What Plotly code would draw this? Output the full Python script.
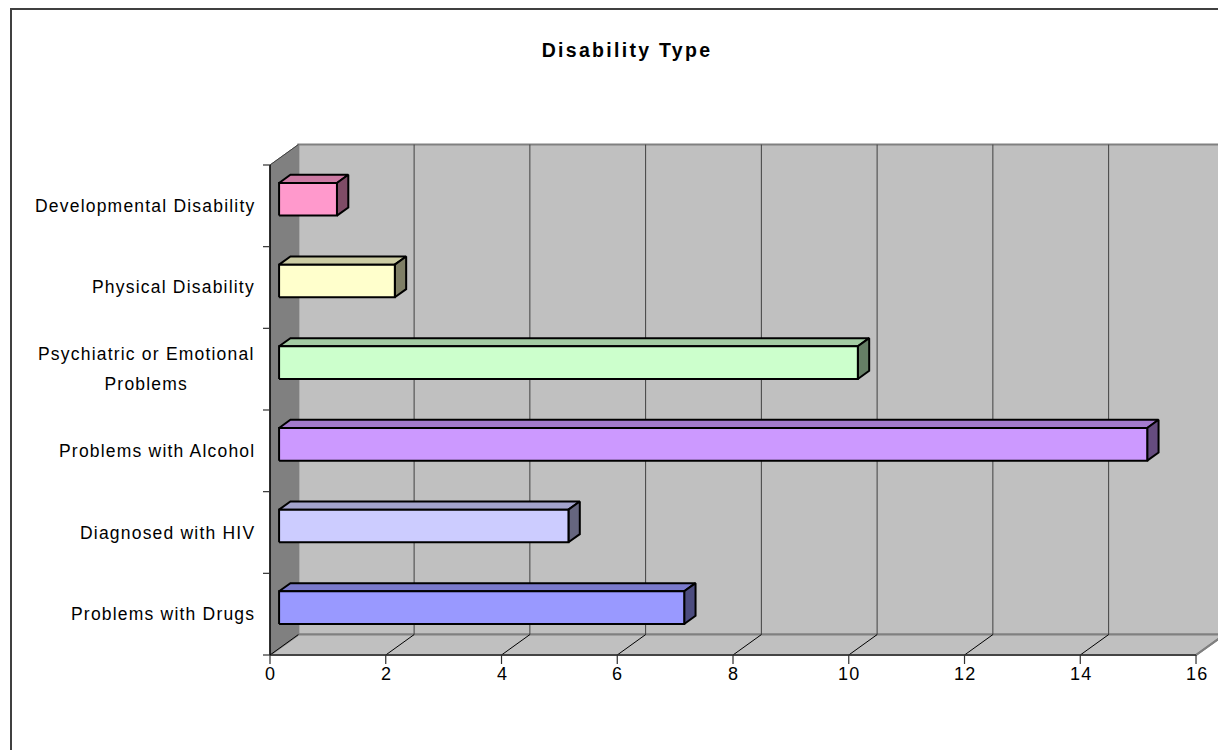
import plotly.graph_objects as go

# ---------------- data ----------------
categories = [
    "Problems with Drugs",
    "Diagnosed with HIV",
    "Problems with Alcohol",
    "Psychiatric or Emotional<br>Problems",
    "Physical Disability",
    "Developmental Disability",
]
values = [7, 5, 15, 10, 2, 1]
bar_colors = ["#9999FF", "#CCCCFF", "#CC99FF", "#CCFFCC", "#FFFFCC", "#FF99CC"]
x_tick_values = [0, 2, 4, 6, 8, 10, 12, 14, 16]
x_tick_labels = ["0", "2", "4", "6", "8", "10", "12", "14", "16"]
title_text = "Disability Type"

# ---------------- geometry / style ----------------
# the page body adds an 8px margin, so the figure is drawn 8px smaller/offset
OFF = 8
W, H = 1226 - OFF, 750 - OFF
M_L, M_R, M_T, M_B = 256 - OFF, 0, 140 - OFF, 80
X_RANGE = [-0.2419, 16.518]
Y_RANGE = [-0.1837, 6.306]
X_MAX = x_tick_values[-1]
N = len(categories)
DX, DY = 0.49, 0.25          # oblique depth offset (axis units)
F0, F1 = 0.32, 0.72          # bar depth span (fraction of depth)
HALF = 0.2                   # half bar thickness (category units)

plot_w = W - M_L - M_R
plot_h = H - M_T - M_B
px_x = plot_w / (X_RANGE[1] - X_RANGE[0])
px_y = plot_h / (Y_RANGE[1] - Y_RANGE[0])

FONT = "Liberation Sans, Arial, sans-serif"
LABEL_SIZE = 17.5
LABEL_SPACING = 1.2


def spaced(t, sp, size=None):
    fs = f";font-size:{size}px" if size else ""
    return "<br>".join(
        f'<span style="letter-spacing:{sp}px{fs}">{part}</span>' for part in t.split("<br>")
    )


def shade(hexc, k):
    hexc = hexc.lstrip("#")
    r, g, b = (int(hexc[i:i + 2], 16) for i in (0, 2, 4))
    return "#%02X%02X%02X" % (int(r * k), int(g * k), int(b * k))


def proj(x, y, f):
    return (x + f * DX, y + f * DY)


fig = go.Figure()


def poly(pts, fill, lc, lw):
    xs = [p[0] for p in pts] + [pts[0][0]]
    ys = [p[1] for p in pts] + [pts[0][1]]
    fig.add_trace(go.Scatter(
        x=xs, y=ys, mode="lines", fill="toself", fillcolor=fill,
        line=dict(color=lc, width=lw), hoverinfo="skip", showlegend=False))


def seg(pts, lc, lw):
    fig.add_trace(go.Scatter(
        x=[p[0] for p in pts], y=[p[1] for p in pts], mode="lines",
        line=dict(color=lc, width=lw), hoverinfo="skip", showlegend=False))


# walls and floor
poly([(DX, DY), (X_MAX + DX, DY), (X_MAX + DX, N + DY), (DX, N + DY)], "#C0C0C0", "#808080", 2)
poly([(0, 0), (DX, DY), (DX, N + DY), (0, N)], "#808080", "#808080", 1)
poly([(0, 0), (X_MAX, 0), (X_MAX + DX, DY), (DX, DY)], "#C0C0C0", "#808080", 2)

# gridlines on back wall and floor
for t in x_tick_values[1:-1]:
    seg([(t + DX, DY), (t + DX, N + DY)], "#404040", 1)
for t in x_tick_values[:-1]:
    seg([(t, 0), (t + DX, DY)], "#000000", 1)
seg([(X_MAX, 0), (X_MAX + DX, DY)], "#808080", 2)
seg([(0, N), (DX, N + DY)], "#404040", 1)

# axes lines
seg([(0, 0), (X_MAX, 0)], "#303030", 1.5)
seg([(0, 0), (0, N)], "#000000", 1.5)

# ticks
tx = 9 / px_y
for t in x_tick_values:
    seg([(t, 0), (t, -tx)], "#303030", 1.2)
ty = 7 / px_x
for j in range(N + 1):
    seg([(0, j), (-ty, j)], "#303030", 1.2)

# bars
for i, (v, col) in enumerate(zip(values, bar_colors)):
    cy = i + 0.5
    y0, y1 = cy - HALF, cy + HALF
    top = [proj(0, y1, F0), proj(v, y1, F0), proj(v, y1, F1), proj(0, y1, F1)]
    side = [proj(v, y0, F0), proj(v, y0, F1), proj(v, y1, F1), proj(v, y1, F0)]
    front = [proj(0, y0, F0), proj(v, y0, F0), proj(v, y1, F0), proj(0, y1, F0)]
    poly(top, shade(col, 0.8), "#000000", 2)
    poly(side, shade(col, 0.5), "#000000", 2)
    poly(front, col, "#000000", 2)

annotations = []
for i, c in enumerate(categories):
    multi = "<br>" in c
    annotations.append(dict(
        x=0, y=i + 0.5, xref="x", yref="y", xanchor="right", yanchor="middle",
        xshift=-13, showarrow=False, align="center",
        text=spaced(c, LABEL_SPACING, LABEL_SIZE if multi else None),
        font=dict(family=FONT, size=23 if multi else LABEL_SIZE, color="#000000")))
for t, lab in zip(x_tick_values, x_tick_labels):
    annotations.append(dict(
        x=t, y=0, xref="x", yref="y", xanchor="center", yanchor="top",
        yshift=-7, xshift=0.6, showarrow=False,
        text=spaced(lab, LABEL_SPACING), font=dict(family=FONT, size=18, color="#000000")))

fig.update_layout(
    width=W, height=H,
    margin=dict(l=M_L, r=M_R, t=M_T, b=M_B, autoexpand=False),
    paper_bgcolor="white", plot_bgcolor="white",
    showlegend=False,
    title=dict(text="<b>" + spaced(title_text, 2.3) + "</b>", x=(627 - OFF) / W, xanchor="center",
               y=1 - (50 - OFF) / H, yanchor="middle", xref="container", yref="container",
               font=dict(family=FONT, size=19.5, color="#000000")),
    xaxis=dict(range=X_RANGE, visible=False, fixedrange=True),
    yaxis=dict(range=Y_RANGE, visible=False, fixedrange=True),
    annotations=annotations,
    shapes=[dict(type="rect", xref="paper", yref="paper",
                 x0=(11 - OFF - M_L) / plot_w, x1=(W + 40 - M_L) / plot_w,
                 y0=(H - M_B - (H + 40)) / plot_h, y1=(H - M_B - 1) / plot_h,
                 line=dict(color="#404040", width=2), fillcolor="rgba(0,0,0,0)",
                 layer="below")],
)

fig.write_html("out.html")
